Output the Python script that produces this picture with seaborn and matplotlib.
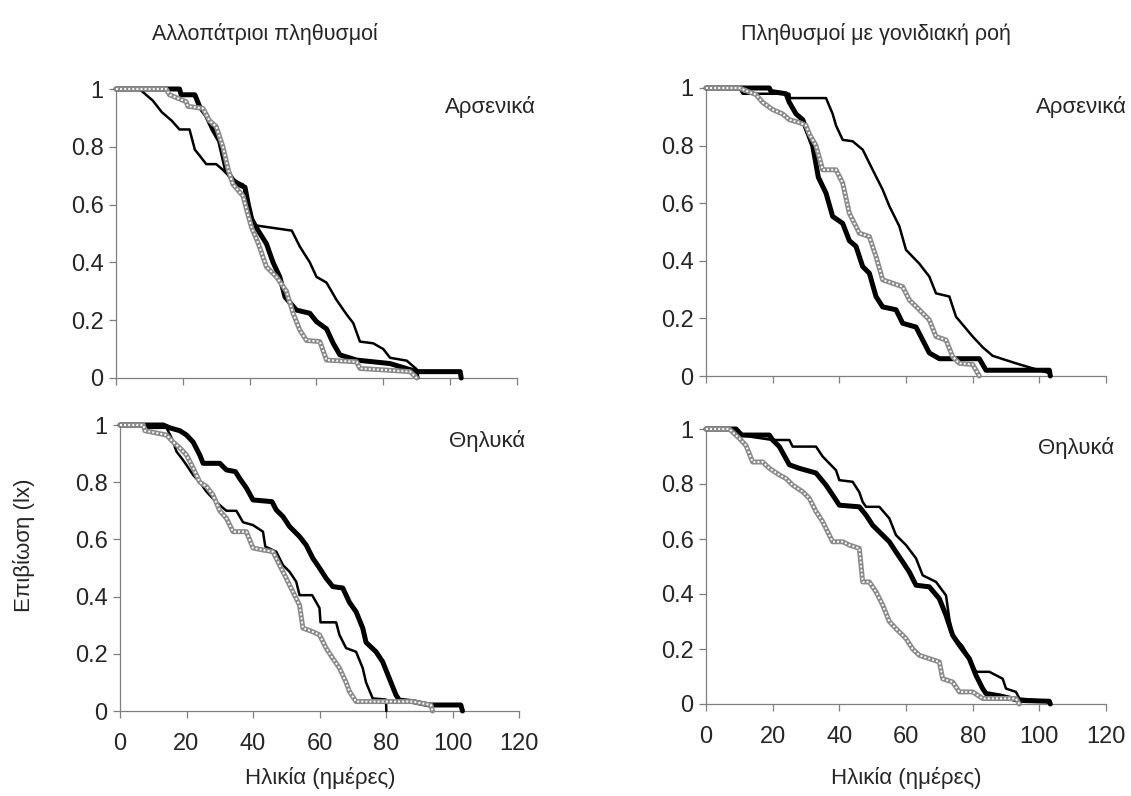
import matplotlib
matplotlib.use("Agg")
import matplotlib.pyplot as plt
import seaborn as sns
import pandas as pd

sns.set_style("white")
plt.rcParams["font.family"] = ["Liberation Sans", "DejaVu Sans"]

# ---- survival curves (age in days, lx) ----
# Allopatric populations, males
allo_m_thin_age = [0, 7, 11, 13.7, 16.7, 19, 22, 23.6, 25, 27, 30, 32, 35, 38, 39.6, 40.6, 52.6, 55, 58, 60, 63, 66, 69, 71, 73, 77, 80, 82, 87, 90, 90.5]
allo_m_thin_lx = [1, 1, .96, .92, .89, .86, .86, .79, .77, .74, .74, .72, .685, .67, .59, .53, .51, .455, .40, .35, .33, .27, .22, .19, .126, .12, .10, .07, .06, .03, 0]
allo_m_thick_age = [0, 19, 19.5, 23.6, 25, 27, 29, 31, 33, 35, 37, 38.6, 39.6, 40.6, 42, 45, 47, 49, 50.6, 54, 58, 60, 63, 65, 67, 72, 82, 90, 103, 103.3]
allo_m_thick_lx = [1, 1, .98, .98, .94, .91, .86, .82, .72, .685, .668, .66, .60, .55, .52, .465, .40, .35, .28, .235, .224, .195, .17, .12, .08, .062, .05, .022, .022, 0]
allo_m_grey_age = [0, 15, 16, 21, 21.5, 26, 28, 30, 32, 33.6, 35, 38, 39.6, 40.6, 42.6, 45, 48, 51, 53, 55, 57, 61, 63, 72, 73, 80, 88, 90]
allo_m_grey_lx = [1, 1, .98, .956, .94, .933, .89, .87, .80, .72, .67, .63, .56, .52, .465, .385, .35, .30, .224, .166, .13, .126, .062, .056, .033, .028, .022, 0]

# Populations with gene flow, males
flow_m_thin_age = [0, 10, 11, 25, 25.2, 36, 38, 39, 41, 44, 47, 50, 53, 55, 58, 60, 64, 67, 69, 73, 75, 80, 83, 86, 93, 97, 103, 103.3]
flow_m_thin_lx = [1, 1, .98, .98, .965, .965, .91, .87, .82, .815, .786, .716, .647, .59, .52, .438, .39, .345, .287, .276, .206, .137, .10, .07, .044, .03, .01, 0]
flow_m_thick_age = [0, 19, 19.5, 24, 25, 27, 29, 30.7, 32, 33.7, 36, 38, 41, 43, 45, 47, 49, 51, 53, 57, 59, 63, 65, 67, 70, 82, 84, 103, 103.3]
flow_m_thick_lx = [1, 1, .988, .98, .95, .91, .89, .84, .80, .69, .635, .554, .53, .47, .45, .38, .357, .276, .24, .23, .183, .17, .125, .08, .06, .06, .02, .02, 0]
flow_m_grey_age = [0, 10, 15, 17, 20, 23, 25, 28, 30, 31, 33, 35, 39, 41, 43, 46, 49, 51, 53, 59, 61, 64, 67, 69, 72, 74, 76, 80, 81, 82]
flow_m_grey_lx = [1, 1, .977, .95, .925, .91, .89, .88, .87, .84, .80, .716, .716, .67, .565, .496, .484, .415, .334, .31, .264, .23, .195, .137, .125, .067, .044, .04, .02, 0]

# Allopatric populations, females
allo_f_thin_age = [0, 8, 8.5, 14, 15.6, 17, 18.6, 20, 22, 24, 26, 29, 32, 35, 37, 40, 43, 43.7, 47, 49, 51, 53, 54, 57.8, 60, 60.3, 65, 66, 68, 71, 73, 74, 76, 80, 80.1]
allo_f_thin_lx = [1, 1, .99, .99, .953, .907, .883, .86, .825, .80, .767, .73, .70, .70, .66, .65, .627, .575, .557, .51, .487, .452, .405, .405, .36, .31, .31, .266, .22, .207, .15, .10, .044, .04, 0]
allo_f_thick_age = [0, 13, 15, 18, 20, 22, 24, 25, 30, 32, 34.7, 36, 38, 40, 45.7, 47, 49, 51, 54, 56, 58, 60, 62, 64, 67, 69, 71, 73, 74, 77, 79, 81, 83, 84, 88, 93, 102.5, 103]
allo_f_thick_lx = [1, 1, .99, .98, .965, .94, .895, .866, .866, .843, .837, .813, .78, .738, .732, .703, .68, .645, .61, .58, .534, .50, .464, .435, .43, .38, .347, .29, .24, .207, .172, .114, .056, .038, .033, .021, .021, 0]
allo_f_grey_age = [0, 7, 7.5, 14, 16, 18, 20, 22, 24, 26, 28, 30, 32, 34, 38, 40, 43, 46, 48, 50, 52, 54, 55, 58, 60, 62, 64, 66, 68, 69, 71, 88, 93.5, 94]
allo_f_grey_lx = [1, 1, .98, .965, .94, .92, .895, .85, .80, .785, .755, .70, .674, .627, .627, .57, .563, .557, .51, .464, .417, .37, .29, .277, .266, .22, .184, .15, .10, .068, .033, .033, .021, 0]

# Populations with gene flow, females
flow_f_thin_age = [0, 8, 10, 20, 25, 26, 33, 35, 39, 40, 44, 46, 47, 48, 52, 55, 57, 60, 63, 65, 69, 72, 73, 74, 77, 79, 81, 85, 89, 90, 93, 94, 103, 103.3]
flow_f_thin_lx = [1, 1, .978, .96, .96, .936, .936, .90, .85, .814, .808, .77, .735, .717, .717, .675, .614, .578, .53, .468, .444, .395, .31, .25, .21, .165, .117, .117, .092, .056, .044, .02, .01, 0]
flow_f_thick_age = [0, 9, 10.7, 19, 20, 22, 25, 28, 33, 36, 38, 40, 46, 48, 50, 53, 55, 57, 59, 61, 63, 67, 70, 72, 74, 76, 79, 81, 83, 84, 88, 94, 103, 103.3]
flow_f_thick_lx = [1, 1, .978, .978, .96, .936, .87, .857, .84, .796, .76, .723, .717, .687, .65, .614, .59, .553, .517, .48, .432, .426, .383, .323, .25, .214, .165, .104, .056, .038, .03, .013, .01, 0]
flow_f_grey_age = [0, 7, 10, 12, 14, 17, 19, 22, 24, 26, 29, 31, 33, 35, 37, 38, 41, 43, 46, 47, 49, 51, 53, 55, 57, 60, 62, 64, 67, 70, 71, 74, 76, 80, 83, 93, 94]
flow_f_grey_lx = [1, 1, .966, .94, .88, .88, .857, .833, .82, .796, .772, .748, .70, .663, .614, .59, .59, .578, .566, .444, .444, .408, .36, .30, .274, .238, .20, .177, .165, .153, .092, .08, .044, .044, .02, .02, 0]

x_ticks = [0, 20, 40, 60, 80, 100, 120]
y_ticks = [0, 0.2, 0.4, 0.6, 0.8, 1]
y_ticklabels = ["0", "0.2", "0.4", "0.6", "0.8", "1"]

col_titles = ["Αλλοπάτριοι πληθυσμοί", "Πληθυσμοί με γονιδιακή ροή"]
sex_labels = ["Αρσενικά", "Θηλυκά"]
y_label = "Επιβίωση (lx)"
x_label = "Ηλικία (ημέρες)"

W, H = 1131, 796
fig = plt.figure(figsize=(W / 100, H / 100), dpi=100)


def px_axes(x0, x1, ytop, ybot):
    return fig.add_axes([x0 / W, (H - ybot) / H, (x1 - x0) / W, (ybot - ytop) / H])


def fy(y):
    return 1 - y / H


panels = [
    (px_axes(116, 517, 89, 378), allo_m_thin_age, allo_m_thin_lx, allo_m_thick_age, allo_m_thick_lx, allo_m_grey_age, allo_m_grey_lx, False),
    (px_axes(706, 1106, 88, 376), flow_m_thin_age, flow_m_thin_lx, flow_m_thick_age, flow_m_thick_lx, flow_m_grey_age, flow_m_grey_lx, False),
    (px_axes(120, 519, 425, 711), allo_f_thin_age, allo_f_thin_lx, allo_f_thick_age, allo_f_thick_lx, allo_f_grey_age, allo_f_grey_lx, True),
    (px_axes(706, 1106, 429, 704), flow_f_thin_age, flow_f_thin_lx, flow_f_thick_age, flow_f_thick_lx, flow_f_grey_age, flow_f_grey_lx, True),
]

spine_col = "#7f7f7f"
for ax, tn_a, tn_l, tk_a, tk_l, gr_a, gr_l, show_x in panels:
    grey = pd.DataFrame({"age": gr_a, "lx": gr_l})
    thin = pd.DataFrame({"age": tn_a, "lx": tn_l})
    thick = pd.DataFrame({"age": tk_a, "lx": tk_l})
    sns.lineplot(data=thin, x="age", y="lx", ax=ax, estimator=None, sort=False,
                 color="black", lw=1.8, clip_on=False, zorder=3)
    sns.lineplot(data=thick, x="age", y="lx", ax=ax, estimator=None, sort=False,
                 color="black", lw=3.6, clip_on=False, zorder=4,
                 solid_capstyle="round", solid_joinstyle="round")
    # hatched grey line: grey body with a dotted white core
    sns.lineplot(data=grey, x="age", y="lx", ax=ax, estimator=None, sort=False,
                 color="#8a8a8a", lw=3.6, clip_on=False, zorder=5)
    sns.lineplot(data=grey, x="age", y="lx", ax=ax, estimator=None, sort=False,
                 color="white", lw=1.4, ls=(0, (1, 1.1)), clip_on=False, zorder=6)

    ax.set_xlim(0, 120)
    ax.set_ylim(0, 1)
    ax.set_xticks(x_ticks)
    ax.set_yticks(y_ticks)
    ax.set_yticklabels(y_ticklabels)
    if show_x:
        ax.set_xticklabels([str(t) for t in x_ticks])
    else:
        ax.set_xticklabels([])
    ax.set_xlabel("")
    ax.set_ylabel("")
    for s in ["top", "right"]:
        ax.spines[s].set_visible(False)
    for s in ["left", "bottom"]:
        ax.spines[s].set_color(spine_col)
        ax.spines[s].set_linewidth(0.9)
    ax.tick_params(axis="both", direction="out", length=5, width=0.9,
                   color=spine_col, labelsize=17, left=True, bottom=True)
    ax.tick_params(axis="y", pad=4)
    ax.tick_params(axis="x", pad=11)
    ax.patch.set_alpha(0)

# column titles
fig.text(265 / W, fy(40), col_titles[0], ha="center", va="baseline", fontsize=15.5)
fig.text(876 / W, fy(40), col_titles[1], ha="center", va="baseline", fontsize=15.5)

# sex labels inside panels
fig.text(445 / W, fy(113), sex_labels[0], ha="left", va="baseline", fontsize=16)
fig.text(1036 / W, fy(113), sex_labels[0], ha="left", va="baseline", fontsize=16)
fig.text(449 / W, fy(447), sex_labels[1], ha="left", va="baseline", fontsize=16)
fig.text(1038 / W, fy(454), sex_labels[1], ha="left", va="baseline", fontsize=16)

# axis titles
fig.text(24 / W, fy(545), y_label, ha="center", va="center", rotation=90, fontsize=16)
fig.text(320 / W, fy(778), x_label, ha="center", va="center", fontsize=16)
fig.text(906 / W, fy(778), x_label, ha="center", va="center", fontsize=16)

fig.savefig("out.png", dpi=100, facecolor="white")
